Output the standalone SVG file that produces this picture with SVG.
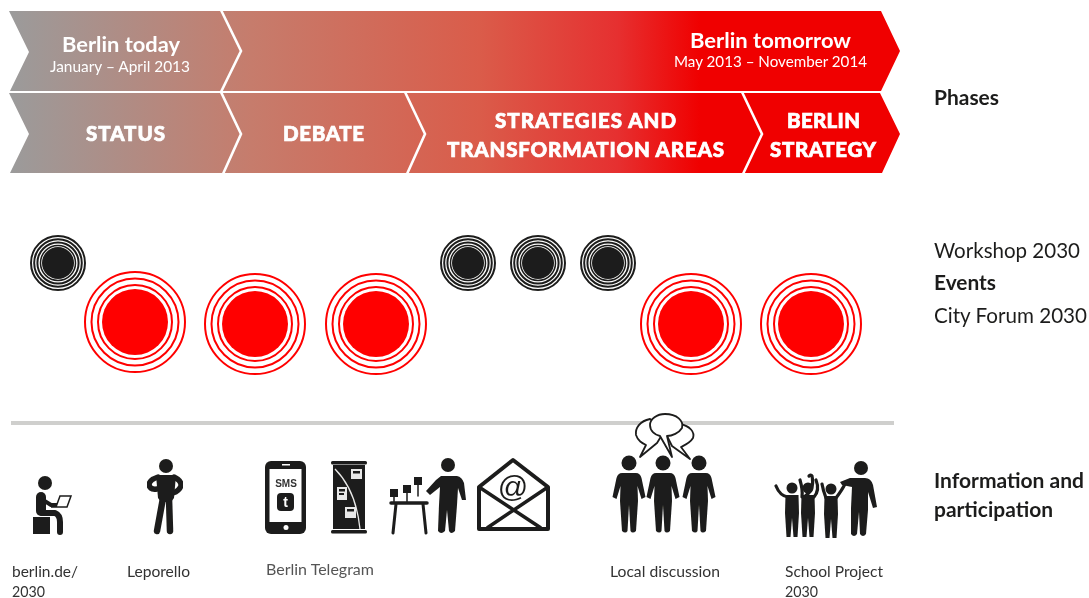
<svg xmlns="http://www.w3.org/2000/svg" xmlns:xlink="http://www.w3.org/1999/xlink" width="1089" height="598" viewBox="0 0 1089 598">
<style>
text{font-family:"Lato","Open Sans","Liberation Sans",sans-serif}
.w{fill:#fff}
.h{font-weight:700;font-size:21px}
.s{font-size:15px;font-weight:400}
.c{font-weight:900;font-size:20.500px;stroke:#fff;stroke-width:.7px}
.r{fill:#1d1d1b;font-size:21px}
.b{font-weight:700}
.l{fill:#333;font-size:15px}
.sep{fill:none;stroke:#fff;stroke-width:2.6}
.ink{fill:#1d1d1b}
.lim{fill:none;stroke:#1d1d1b;stroke-linecap:round;stroke-linejoin:round}
.rk{fill:none;stroke:#1d1d1b;stroke-width:2}
.rr{fill:none;stroke:#f00;stroke-width:2}
.soft{filter:url(#soft)}
</style>
<defs>
<filter id="soft" x="-5%" y="-5%" width="110%" height="110%"><feGaussianBlur stdDeviation="0.45"/></filter>
<linearGradient id="g" gradientUnits="userSpaceOnUse" x1="10" y1="0" x2="700" y2="0">
<stop offset="0" stop-color="#9b9b9b"/><stop offset=".35" stop-color="#c67c6c"/><stop offset=".68" stop-color="#da5c4a"/><stop offset=".88" stop-color="#e63030"/><stop offset="1" stop-color="#f00000"/>
</linearGradient>
<g id="ev1"><circle r="27" class="rk"/><circle r="23.800" class="rk"/><circle r="20.600" class="rk"/><circle r="17.500" class="rk" style="stroke-width:1.500"/><circle r="16" fill="#1d1d1b"/></g>
<g id="ev2"><circle r="50" class="rr"/><circle r="43.500" class="rr"/><circle r="37" class="rr" stroke-width="2.600"/><circle r="33" fill="#f00"/></g>
<g id="person">
<circle cx="0" cy="0" r="7.500" class="ink"/>
<path class="ink" d="M-7 10H7Q11 10 12.500 15L16.500 34L12.500 36L8.500 23L9 38L7 68Q3.500 71 1.500 68L0 42L-1.500 68Q-3.500 71 -7 68L-9 38L-8.500 23L-12.500 36L-16.500 34L-12.500 15Q-11 10 -7 10Z"/>
</g>
<g id="kid">
<circle cx="0" cy="0" r="5.500" class="ink"/>
<path class="ink" d="M-6.500 7H6.500L7 25L5.500 49H1.500L0 30L-1.500 49H-5.500L-7 25Z"/>
</g>
</defs>

<g id="phases">
<path id="band-top" fill="url(#g)" d="M9 11H881L900 51L881 91H10L29 52Z"/>
<path id="band-bottom" fill="url(#g)" d="M9 93H880L900 134L882 173H10L29 134Z"/>
</g>
<g id="separators">
<path class="sep" d="M221 10L241 51L221 92L241 134L223 174"/>
<path class="sep" d="M405 92L425 134L407 174"/>
<path class="sep" d="M742 92L762 134L743 174"/>
</g>
<g id="phase-labels" class="soft">
<text class="w h" x="62" y="52" textLength="118" lengthAdjust="spacingAndGlyphs">Berlin today</text>
<text class="w s" x="50" y="72" textLength="140" lengthAdjust="spacingAndGlyphs">January – April 2013</text>
<text class="w h" x="690" y="48" textLength="161" lengthAdjust="spacingAndGlyphs">Berlin tomorrow</text>
<text class="w s" x="674" y="67" textLength="193" lengthAdjust="spacingAndGlyphs">May 2013 – November 2014</text>
<text class="w c" x="86" y="141" textLength="79" lengthAdjust="spacing">STATUS</text>
<text class="w c" x="283" y="141" textLength="81" lengthAdjust="spacing">DEBATE</text>
<text class="w c" x="495" y="128" textLength="181" lengthAdjust="spacing">STRATEGIES AND</text>
<text class="w c" x="447" y="157" textLength="277" lengthAdjust="spacing">TRANSFORMATION AREAS</text>
<text class="w c" x="787" y="128" textLength="73" lengthAdjust="spacing">BERLIN</text>
<text class="w c" x="770" y="157" textLength="106" lengthAdjust="spacing">STRATEGY</text>
</g>

<g id="workshops" class="soft">
<use xlink:href="#ev1" href="#ev1" x="58" y="263"/>
<use xlink:href="#ev1" href="#ev1" x="468" y="263"/>
<use xlink:href="#ev1" href="#ev1" x="538" y="263"/>
<use xlink:href="#ev1" href="#ev1" x="608" y="263"/>
</g>
<g id="forums" class="soft">
<use xlink:href="#ev2" href="#ev2" x="135" y="322"/>
<use xlink:href="#ev2" href="#ev2" x="255" y="324"/>
<use xlink:href="#ev2" href="#ev2" x="376" y="324"/>
<use xlink:href="#ev2" href="#ev2" x="691" y="324"/>
<use xlink:href="#ev2" href="#ev2" x="811" y="324"/>
</g>

<g id="side-labels" class="soft">
<text class="r b" x="934" y="105" textLength="65" lengthAdjust="spacingAndGlyphs">Phases</text>
<text class="r" x="934" y="258" textLength="146" lengthAdjust="spacingAndGlyphs">Workshop 2030</text>
<text class="r b" x="934" y="290" textLength="62" lengthAdjust="spacingAndGlyphs">Events</text>
<text class="r" x="934" y="323" textLength="153" lengthAdjust="spacingAndGlyphs">City Forum 2030</text>
<text class="r b" x="934" y="488" textLength="150" lengthAdjust="spacingAndGlyphs">Information and</text>
<text class="r b" x="934" y="517" textLength="119" lengthAdjust="spacingAndGlyphs">participation</text>
</g>

<rect id="divider" x="11" y="421" width="883" height="4" fill="#cfcfcd"/>

<g id="icon-web" class="soft">
<circle cx="45" cy="483" r="7" class="ink"/>
<rect x="33" y="517" width="17" height="17" class="ink"/>
<path class="lim" stroke-width="10" d="M41 497V511"/>
<path class="lim" stroke-width="6" d="M42 513H55Q60 515 60 522V532"/>
<path class="lim" stroke-width="4" d="M43 500L51 505H60"/>
<path fill="#fff" stroke="#1d1d1b" stroke-width="1.500" d="M60 496L71 496L67 507L51 507L56 507Z"/>
</g>
<g id="icon-leporello" class="soft">
<circle cx="166" cy="466" r="7" class="ink"/>
<path class="ink" d="M156 475H176L174 498L171 502H161L158 498Z"/>
<path class="lim" stroke-width="5.500" d="M158 477Q149 480 149 485Q150 490 157 489M174 477Q182 481 181 486Q179 491 173 493"/>
<path class="lim" stroke-width="6.500" d="M163 498L157 531M169 498L170 531"/>
</g>
<g id="icon-phone" class="soft">
<rect x="265" y="461" width="41" height="73" rx="6" class="ink"/>
<rect x="269.500" y="469" width="32" height="53" fill="#fff"/>
<rect x="282" y="464" width="8" height="1.500" fill="#fff"/>
<circle cx="286" cy="527.500" r="2.500" fill="#fff"/>
<text x="286" y="487" text-anchor="middle" font-size="10" font-weight="700" fill="#333" style="font-family:'Liberation Sans',sans-serif">SMS</text>
<rect x="277" y="493" width="17" height="18" rx="4" class="ink"/>
<text x="285.500" y="507" text-anchor="middle" font-size="14" font-weight="700" fill="#fff" style="font-family:'Liberation Sans',sans-serif">t</text>
</g>
<g id="icon-banner" class="soft">
<rect x="331" y="461" width="36" height="3.500" rx="1.500" class="ink"/>
<rect x="331" y="530" width="36" height="3.500" rx="1.500" class="ink"/>
<rect x="333" y="465" width="32" height="64" class="ink"/>
<path fill="none" stroke="#e8e8e8" stroke-width="1.300" d="M335 469Q356 490 360 529"/>
<rect x="351" y="469" width="11" height="10" fill="#e8e8e8"/><rect x="353" y="471" width="7" height="2.500" class="ink"/>
<rect x="337" y="487" width="10" height="13" fill="#e8e8e8"/><rect x="339" y="489" width="6" height="2.500" class="ink"/><rect x="339" y="493" width="5" height="2" class="ink"/>
<rect x="345" y="507" width="11" height="11" fill="#e8e8e8"/><rect x="347" y="509" width="7" height="2.500" class="ink"/>
</g>
<g id="icon-table" class="soft">
<path class="lim" stroke-width="3.500" d="M391 503H427"/>
<path class="lim" stroke-width="3" d="M396 504L393 533M423 504L426 533"/>
<rect x="390" y="489" width="8" height="8" class="ink"/><rect x="403" y="485" width="8" height="8" class="ink"/><rect x="414" y="477" width="8" height="8" class="ink"/>
<path class="lim" stroke-width="1.500" d="M394 497V503M407 493V503M418 485V496"/>
<circle cx="448" cy="465" r="7" class="ink"/>
<path class="ink" d="M441 476H457Q462 477 464 483L466 500H462L458 488L457 505L455 531Q451 535 449 531L447 510L445 531Q441 535 438 531L439 505L440 487L430 495L426 491L436 480Z"/>
</g>
<g id="icon-mail" class="soft">
<path fill="#fff" stroke="#1d1d1b" stroke-width="4" stroke-linejoin="round" d="M479 487L513 460L548 487V529H479Z"/>
<path fill="none" stroke="#1d1d1b" stroke-width="3.500" d="M479 487L541 528M548 487L487 528"/>
<ellipse cx="513" cy="487" rx="19" ry="15" fill="#fff"/>
<text x="513" y="497" text-anchor="middle" font-size="30" fill="#1d1d1b" style="font-family:'Liberation Sans',sans-serif">@</text>
</g>
<g id="icon-discussion" class="soft">
<use xlink:href="#person" href="#person" x="629" y="463"/>
<use xlink:href="#person" href="#person" x="663" y="463"/>
<use xlink:href="#person" href="#person" x="699" y="463"/>
<path fill="#fff" stroke="#1d1d1b" stroke-width="1.800" stroke-linejoin="round" d="M650 419C640 421 635 428 636 435C638 441 642 443 646 445L640 457L657 443L665 430Z"/>
<path fill="#fff" stroke="#1d1d1b" stroke-width="1.800" stroke-linejoin="round" d="M680 424C690 426 695 432 693 438C690 443 685 445 681 447L690 459L672 446L665 432Z"/>
<path fill="#fff" stroke="#1d1d1b" stroke-width="1.800" stroke-linejoin="round" d="M665 414C677 414 684 421 682 428C679 433 672 436 667 436L672 457L660 436C655 435 650 431 650 425C650 419 657 414 665 414Z"/>
</g>
<g id="icon-school" class="soft">
<use xlink:href="#kid" href="#kid" x="792" y="488"/>
<use xlink:href="#kid" href="#kid" x="808" y="488"/>
<use xlink:href="#kid" href="#kid" x="831" y="489"/>
<path class="lim" stroke-width="3.200" d="M776 486Q780 496 788 497M802 497Q803 490 800 480M804 497Q815 490 812 476Q811 474 809 476M814 497Q820 490 816 480M826 498Q823 490 822 484M836 498Q842 490 845 484"/>
<circle cx="861" cy="468" r="7" class="ink"/>
<path class="ink" d="M850 478H865Q871 478 873 485L877 507L873 508L868 492L868 510L866 534Q863 538 860 534L859 512L857 534Q854 538 851 534L851 508L852 487L842 485L840 482Z"/>
</g>

<g id="info-labels" class="soft">
<text class="l" x="12" y="577" textLength="66" lengthAdjust="spacingAndGlyphs">berlin.de/</text>
<text class="l" x="12" y="597" textLength="33" lengthAdjust="spacingAndGlyphs">2030</text>
<text class="l" x="127" y="577" textLength="63" lengthAdjust="spacingAndGlyphs">Leporello</text>
<text class="l" x="266" y="575" textLength="108" lengthAdjust="spacingAndGlyphs" style="fill:#555">Berlin Telegram</text>
<text class="l" x="610" y="577" textLength="110" lengthAdjust="spacingAndGlyphs">Local discussion</text>
<text class="l" x="785" y="577" textLength="98" lengthAdjust="spacingAndGlyphs">School Project</text>
<text class="l" x="785" y="597" textLength="33" lengthAdjust="spacingAndGlyphs">2030</text>
</g>
</svg>
